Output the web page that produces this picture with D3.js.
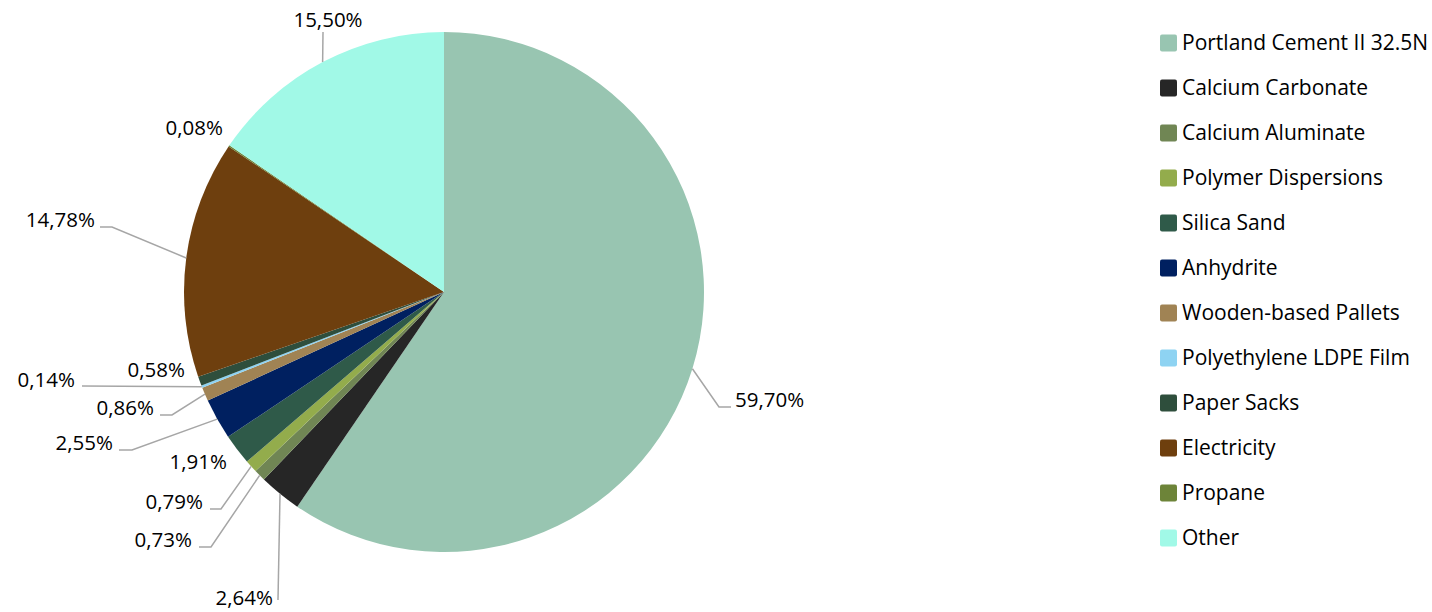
<!DOCTYPE html>
<html>
<head>
<meta charset="utf-8">
<script src="https://cdn.jsdelivr.net/npm/d3@7"></script>
<style>
  html, body { margin: 0; padding: 0; background: #fff; }
  svg { display: block; }
  text { font-family: "Open Sans", "Noto Sans", sans-serif; fill: #000; }
</style>
</head>
<body>
<svg id="chart" width="1432" height="612"></svg>
<script>
// ---- data ----
const categories = [
  "Portland Cement II 32.5N", "Calcium Carbonate", "Calcium Aluminate",
  "Polymer Dispersions", "Silica Sand", "Anhydrite", "Wooden-based Pallets",
  "Polyethylene LDPE Film", "Paper Sacks", "Electricity", "Propane", "Other"
];
const values = [59.70, 2.64, 0.73, 0.79, 1.91, 2.55, 0.86, 0.14, 0.58, 14.78, 0.08, 15.50];
const valueLabels = ["59,70%", "2,64%", "0,73%", "0,79%", "1,91%", "2,55%", "0,86%", "0,14%", "0,58%", "14,78%", "0,08%", "15,50%"];
const colors = ["#98C5B1", "#262626", "#708654", "#93AC4C", "#2F5A49", "#002060",
                "#A08354", "#8ED3F2", "#2E4E3C", "#6E3F0E", "#6D8439", "#A1F9E7"];

// ---- label layout (text position, anchor, leader elbow & end) ----
const labelLayout = [
  { x: 735, y: 400, anchor: "start", leader: [[719, 407], [731, 407]] },
  { x: 273, y: 598, anchor: "end",   leader: [[278, 600]] },
  { x: 192, y: 540, anchor: "end",   leader: [[211, 547], [199, 547]] },
  { x: 203, y: 502, anchor: "end",   leader: [[221, 509], [210, 509]] },
  { x: 227, y: 462, anchor: "end",   leader: null },
  { x: 113, y: 443, anchor: "end",   leader: [[132, 450], [119, 450]] },
  { x: 154, y: 408, anchor: "end",   leader: [[172, 415], [160, 415]] },
  { x: 75,  y: 380, anchor: "end",   leader: [[82, 386]] },
  { x: 185, y: 370, anchor: "end",   leader: null },
  { x: 95,  y: 220, anchor: "end",   leader: [[112, 227], [100, 227]] },
  { x: 223, y: 128, anchor: "end",   leader: null },
  { x: 328, y: 20,  anchor: "middle", leader: [[323, 32]] }
];

const svg = d3.select("#chart");
const cx = 444, cy = 292, R = 260;

const pie = d3.pie().sort(null).value(d => d)(values);
const arc = d3.arc().innerRadius(0).outerRadius(R);

const g = svg.append("g").attr("transform", `translate(${cx},${cy})`);
g.selectAll("path.slice")
  .data(pie)
  .join("path")
  .attr("class", "slice")
  .attr("d", arc)
  .attr("fill", (d, i) => colors[i]);

// leader lines
const edge = d => {
  const a = (d.startAngle + d.endAngle) / 2;
  return [cx + R * Math.sin(a), cy - R * Math.cos(a)];
};
const line = d3.line();
svg.append("g").selectAll("path.leader")
  .data(pie.filter((d, i) => labelLayout[i].leader))
  .join("path")
  .attr("class", "leader")
  .attr("d", d => line([edge(d), ...labelLayout[d.index].leader]))
  .attr("fill", "none")
  .attr("stroke", "#A6A6A6")
  .attr("stroke-width", 1.5);

// data labels
svg.append("g").selectAll("text.lbl")
  .data(pie)
  .join("text")
  .attr("class", "lbl")
  .attr("x", (d, i) => labelLayout[i].x)
  .attr("y", (d, i) => labelLayout[i].y)
  .attr("dy", "0.35em")
  .attr("text-anchor", (d, i) => labelLayout[i].anchor)
  .style("font-size", "20.5px")
  .text((d, i) => valueLabels[i]);

// legend
const legendY = d3.scalePoint().domain(categories).range([43, 538]);
const lg = svg.append("g").selectAll("g.item")
  .data(categories)
  .join("g")
  .attr("class", "item")
  .attr("transform", d => `translate(1160,${legendY(d)})`);
lg.append("rect")
  .attr("x", 0).attr("y", -8.5)
  .attr("width", 17).attr("height", 17)
  .attr("rx", 2)
  .attr("fill", (d, i) => colors[i]);
lg.append("text")
  .attr("x", 22).attr("y", 0).attr("dy", "0.35em")
  .style("font-size", "21px")
  .text(d => d);
</script>
</body>
</html>
